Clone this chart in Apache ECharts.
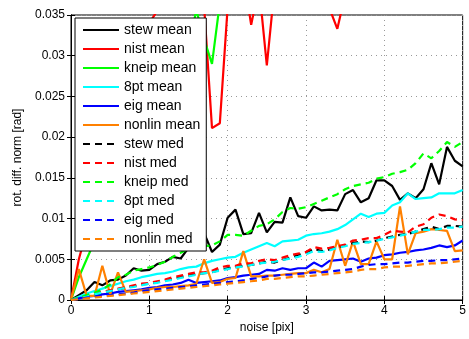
<!DOCTYPE html>
<html>
<head>
<meta charset="utf-8">
<script src="https://cdn.jsdelivr.net/npm/echarts@6/dist/echarts.min.js"></script>
<style>
  html, body { margin: 0; padding: 0; background: #fff; }
  #main { width: 469px; height: 339px; }
</style>
</head>
<body>
<div id="main"></div>
<script>
// noise levels [pix]
var noise = [0, 0.1, 0.2, 0.3, 0.4, 0.5, 0.6, 0.7, 0.8, 0.9,
    1.0, 1.1, 1.2, 1.3, 1.4, 1.5, 1.6, 1.7, 1.8, 1.9,
    2.0, 2.1, 2.2, 2.3, 2.4, 2.5, 2.6, 2.7, 2.8, 2.9,
    3.0, 3.1, 3.2, 3.3, 3.4, 3.5, 3.6, 3.7, 3.8, 3.9,
    4.0, 4.1, 4.2, 4.3, 4.4, 4.5, 4.6, 4.7, 4.8, 4.9, 5.0];

// means
var stewMean = [0, 0.0006, 0.0012, 0.0022, 0.0018, 0.0024, 0.0025, 0.0030, 0.0039, 0.0036,
    0.0037, 0.0044, 0.0047, 0.0053, 0.0051, 0.0064, 0.0071, 0.0082, 0.0059, 0.0068,
    0.0101, 0.0111, 0.0081, 0.0082, 0.0107, 0.0083, 0.0096, 0.0095, 0.0126, 0.0103,
    0.0101, 0.0115, 0.0110, 0.0111, 0.0110, 0.0130, 0.0135, 0.0120, 0.0125, 0.0147,
    0.0147, 0.0140, 0.0123, 0.0131, 0.0125, 0.0136, 0.0168, 0.0142, 0.0188, 0.0171, 0.0164];
var nistMean = [0, 0.0050, 0.0085, 0.0130, 0.0170, 0.0200, 0.0230, 0.0260, 0.0290, 0.0310,
    0.0340, 0.0355, 0.0400, 0.0420, 0.0450, 0.0480, 0.0500, 0.0360, 0.0211, 0.0217,
    0.0360, 0.0480, 0.0400, 0.0338, 0.0385, 0.0288, 0.0385, 0.0500, 0.0470, 0.0520,
    0.0490, 0.0450, 0.0480, 0.0358, 0.0333, 0.0375, 0.0460, 0.0510, 0.0480, 0.0530,
    0.0500, 0.0550, 0.0520, 0.0560, 0.0540, 0.0580, 0.0550, 0.0600, 0.0570, 0.0620, 0.0590];
var kneipMean = [0, 0.0028, 0.0050, 0.0072, 0.0090, 0.0110, 0.0130, 0.0150, 0.0170, 0.0190,
    0.0210, 0.0230, 0.0250, 0.0270, 0.0290, 0.0310, 0.0356, 0.0320, 0.0290, 0.0365,
    0.0450, 0.0480, 0.0460, 0.0500, 0.0490, 0.0520, 0.0510, 0.0540, 0.0530, 0.0560,
    0.0550, 0.0580, 0.0570, 0.0600, 0.0590, 0.0620, 0.0610, 0.0640, 0.0630, 0.0660,
    0.0650, 0.0680, 0.0670, 0.0700, 0.0690, 0.0720, 0.0710, 0.0740, 0.0730, 0.0760, 0.0750];
var ptMean = [0, 0.0004, 0.0008, 0.0011, 0.0014, 0.0017, 0.0020, 0.0023, 0.0025, 0.0028,
    0.0030, 0.0032, 0.0033, 0.0035, 0.0038, 0.0040, 0.0041, 0.0045, 0.0048, 0.0050,
    0.0052, 0.0053, 0.0058, 0.0062, 0.0066, 0.0070, 0.0066, 0.0072, 0.0073, 0.0074,
    0.0079, 0.0081, 0.0082, 0.0084, 0.0087, 0.0092, 0.0099, 0.0106, 0.0102, 0.0106,
    0.0107, 0.0116, 0.0120, 0.0131, 0.0124, 0.0125, 0.0126, 0.0131, 0.0131, 0.0131, 0.0135];
var eigMean = [0, 0.0002, 0.0004, 0.0005, 0.0007, 0.0008, 0.0010, 0.0011, 0.0012, 0.0013,
    0.0015, 0.0016, 0.0018, 0.0019, 0.0021, 0.0025, 0.0021, 0.0022, 0.0023, 0.0024,
    0.0027, 0.0028, 0.0030, 0.0031, 0.0032, 0.0037, 0.0036, 0.0039, 0.0037, 0.0039,
    0.0039, 0.0046, 0.0041, 0.0048, 0.0049, 0.0050, 0.0051, 0.0047, 0.0051, 0.0052,
    0.0055, 0.0056, 0.0058, 0.0059, 0.0061, 0.0062, 0.0064, 0.0067, 0.0065, 0.0067, 0.0073];
var nonlinMean = [0, 0.0038, 0.0005, 0.0005, 0.0042, 0.0007, 0.0034, 0.0010, 0.0011, 0.0012,
    0.0013, 0.0015, 0.0016, 0.0016, 0.0017, 0.0018, 0.0020, 0.0050, 0.0021, 0.0022,
    0.0026, 0.0027, 0.0060, 0.0029, 0.0029, 0.0030, 0.0030, 0.0031, 0.0032, 0.0033,
    0.0033, 0.0037, 0.0034, 0.0038, 0.0074, 0.0042, 0.0072, 0.0044, 0.0044, 0.0072,
    0.0050, 0.0050, 0.0115, 0.0056, 0.0082, 0.0084, 0.0087, 0.0086, 0.0085, 0.0060, 0.0061];

// medians
var stewMed = [0, 0.0002, 0.0004, 0.0007, 0.0009, 0.0011, 0.0013, 0.0015, 0.0017, 0.0019,
    0.0020, 0.0022, 0.0024, 0.0026, 0.0028, 0.0030, 0.0032, 0.0033, 0.0034, 0.0037,
    0.0039, 0.0040, 0.0042, 0.0043, 0.0045, 0.0047, 0.0046, 0.0049, 0.0052, 0.0055,
    0.0058, 0.0063, 0.0060, 0.0062, 0.0065, 0.0067, 0.0070, 0.0072, 0.0071, 0.0073,
    0.0076, 0.0078, 0.0080, 0.0081, 0.0084, 0.0087, 0.0090, 0.0087, 0.0091, 0.0091, 0.0090];
var nistMed = [0, 0.0002, 0.0005, 0.0008, 0.0010, 0.0012, 0.0014, 0.0016, 0.0018, 0.0020,
    0.0021, 0.0023, 0.0025, 0.0028, 0.0030, 0.0032, 0.0034, 0.0034, 0.0036, 0.0040,
    0.0042, 0.0042, 0.0045, 0.0045, 0.0048, 0.0050, 0.0049, 0.0052, 0.0055, 0.0057,
    0.0059, 0.0065, 0.0063, 0.0064, 0.0066, 0.0068, 0.0073, 0.0074, 0.0076, 0.0076,
    0.0080, 0.0085, 0.0084, 0.0083, 0.0090, 0.0093, 0.0101, 0.0105, 0.0103, 0.0099, 0.0098];
var kneipMed = [0, 0.0003, 0.0006, 0.0009, 0.0013, 0.0019, 0.0028, 0.0031, 0.0036, 0.0038,
    0.0040, 0.0043, 0.0047, 0.0053, 0.0058, 0.0063, 0.0066, 0.0066, 0.0067, 0.0072,
    0.0080, 0.0080, 0.0079, 0.0085, 0.0091, 0.0093, 0.0099, 0.0108, 0.0113, 0.0112,
    0.0114, 0.0118, 0.0122, 0.0126, 0.0130, 0.0136, 0.0140, 0.0142, 0.0144, 0.0149,
    0.0151, 0.0155, 0.0157, 0.0160, 0.0168, 0.0180, 0.0174, 0.0183, 0.0194, 0.0188, 0.0194];
var ptMed = [0, 0.0002, 0.0004, 0.0007, 0.0009, 0.0011, 0.0013, 0.0015, 0.0016, 0.0018,
    0.0020, 0.0021, 0.0023, 0.0025, 0.0027, 0.0029, 0.0031, 0.0033, 0.0034, 0.0036,
    0.0038, 0.0040, 0.0041, 0.0043, 0.0045, 0.0046, 0.0047, 0.0049, 0.0051, 0.0053,
    0.0056, 0.0060, 0.0059, 0.0061, 0.0064, 0.0066, 0.0069, 0.0070, 0.0071, 0.0073,
    0.0075, 0.0077, 0.0079, 0.0081, 0.0084, 0.0086, 0.0086, 0.0087, 0.0089, 0.0089, 0.0090];
var eigMed = [0, 0.0001, 0.0003, 0.0004, 0.0005, 0.0006, 0.0007, 0.0008, 0.0009, 0.0011,
    0.0012, 0.0013, 0.0014, 0.0015, 0.0016, 0.0017, 0.0018, 0.0019, 0.0020, 0.0021,
    0.0022, 0.0023, 0.0024, 0.0026, 0.0027, 0.0029, 0.0030, 0.0031, 0.0031, 0.0032,
    0.0033, 0.0034, 0.0034, 0.0035, 0.0036, 0.0037, 0.0038, 0.0041, 0.0043, 0.0044,
    0.0044, 0.0045, 0.0046, 0.0046, 0.0047, 0.0048, 0.0048, 0.0049, 0.0049, 0.0050, 0.0051];
var nonlinMed = [0, 0.0001, 0.0002, 0.0003, 0.0004, 0.0005, 0.0006, 0.0007, 0.0008, 0.0009,
    0.0010, 0.0011, 0.0012, 0.0013, 0.0014, 0.0015, 0.0016, 0.0017, 0.0018, 0.0019,
    0.0020, 0.0021, 0.0022, 0.0023, 0.0024, 0.0026, 0.0026, 0.0027, 0.0028, 0.0029,
    0.0029, 0.0030, 0.0031, 0.0032, 0.0033, 0.0034, 0.0035, 0.0037, 0.0038, 0.0038,
    0.0040, 0.0041, 0.0041, 0.0042, 0.0043, 0.0044, 0.0045, 0.0045, 0.0046, 0.0047, 0.0048];

var FONT = '"Liberation Sans", Arial, Helvetica, sans-serif';

var seriesDefs = [
    { name: 'stew mean',   data: stewMean,   color: '#000000', dash: false },
    { name: 'nist mean',   data: nistMean,   color: '#ff0000', dash: false },
    { name: 'kneip mean',  data: kneipMean,  color: '#00ff00', dash: false },
    { name: '8pt mean',    data: ptMean,     color: '#00ffff', dash: false },
    { name: 'eig mean',    data: eigMean,    color: '#0000ff', dash: false },
    { name: 'nonlin mean', data: nonlinMean, color: '#ff8000', dash: false },
    { name: 'stew med',    data: stewMed,    color: '#000000', dash: true },
    { name: 'nist med',    data: nistMed,    color: '#ff0000', dash: true },
    { name: 'kneip med',   data: kneipMed,   color: '#00ff00', dash: true },
    { name: '8pt med',     data: ptMed,      color: '#00ffff', dash: true },
    { name: 'eig med',     data: eigMed,     color: '#0000ff', dash: true },
    { name: 'nonlin med',  data: nonlinMed,  color: '#ff8000', dash: true }
];

var series = seriesDefs.map(function (s) {
    return {
        name: s.name,
        type: 'line',
        symbol: 'none',
        clip: true,
        animation: false,
        data: noise.map(function (x, i) { return [x, s.data[i]]; }),
        lineStyle: { color: s.color, width: 2.2, type: s.dash ? [7, 5] : 'solid' },
        itemStyle: { color: s.color }
    };
});

var gridDots = { show: true, lineStyle: { color: '#999', width: 1, type: [1, 4] } };

var chart = echarts.init(document.getElementById('main'));
var option = {
    backgroundColor: '#fff',
    animation: false,
    textStyle: { fontFamily: FONT },
    grid: { left: 71, right: 5, top: 15, bottom: 38, show: true, borderColor: '#000', borderWidth: 1 },
    legend: {
        orient: 'vertical',
        left: 75, top: 18,
        z: 10,
        backgroundColor: '#fff',
        borderColor: '#000', borderWidth: 1,
        padding: [4, 6, 4, 7],
        itemWidth: 36, itemHeight: 14, itemGap: 3,
        itemStyle: { opacity: 0 },
        textStyle: { fontFamily: FONT, fontSize: 14, color: '#000', lineHeight: 16 },
        selectedMode: false,
        data: seriesDefs.map(function (s) { return s.name; })
    },
    xAxis: [{
        type: 'value', min: 0, max: 5, interval: 1,
        name: 'noise [pix]', nameLocation: 'middle', nameGap: 22,
        nameTextStyle: { fontFamily: FONT, fontSize: 12, color: '#000' },
        axisLine: { show: true, lineStyle: { color: '#000' } },
        axisTick: { inside: true, length: 4, lineStyle: { color: '#000' } },
        axisLabel: { fontFamily: FONT, fontSize: 12, color: '#000', margin: 5 },
        splitLine: gridDots
    }, {
        type: 'value', min: 0, max: 5, interval: 1, position: 'top',
        axisLine: { show: true, lineStyle: { color: '#000' } },
        axisTick: { inside: true, length: 4, lineStyle: { color: '#000' } },
        axisLabel: { show: false },
        splitLine: { show: false }
    }],
    yAxis: [{
        type: 'value', min: 0, max: 0.035, interval: 0.005,
        name: 'rot. diff. norm [rad]', nameLocation: 'middle', nameGap: 44,
        nameTextStyle: { fontFamily: FONT, fontSize: 12, color: '#000' },
        axisLine: { show: true, lineStyle: { color: '#000' } },
        axisTick: { inside: true, length: 4, lineStyle: { color: '#000' } },
        axisLabel: { fontFamily: FONT, fontSize: 12, color: '#000', margin: 6 },
        splitLine: gridDots
    }, {
        type: 'value', min: 0, max: 0.035, interval: 0.005, position: 'right',
        axisLine: { show: true, lineStyle: { color: '#000' } },
        axisTick: { inside: true, length: 4, lineStyle: { color: '#000' } },
        axisLabel: { show: false },
        splitLine: { show: false }
    }],
    series: series
};
chart.setOption(option);
</script>
</body>
</html>
